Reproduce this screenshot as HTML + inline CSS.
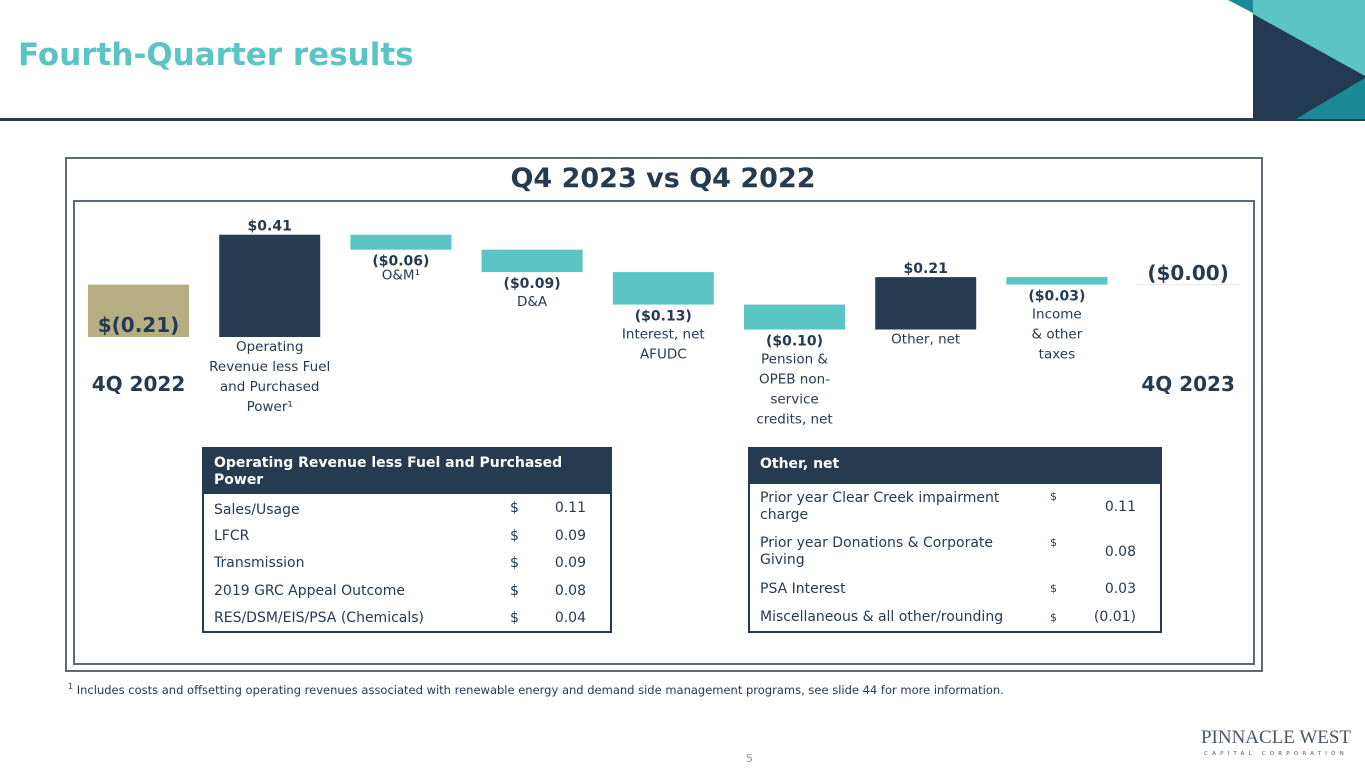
<!DOCTYPE html>
<html><head><meta charset="utf-8"><style>
body{margin:0;width:1365px;height:768px;position:relative;background:#fff;font-family:"DejaVu Sans","Liberation Sans",sans-serif;overflow:hidden;color:#263a50}
.abs{position:absolute}
table{border-collapse:collapse;font-size:14px;color:#263a50;table-layout:fixed}
.tbl{position:absolute;border:2px solid #263a50;background:#fff}
.tbl .hd{background:#263a50;color:#fff;font-weight:bold;padding:6px 10px;font-size:14px;line-height:17px}
.tbl td{padding:0 10px;vertical-align:middle}
</style></head><body>
<div class="abs" style="left:18px;top:37px;font-size:31px;font-weight:bold;color:#5bc4c4">Fourth-Quarter results</div>
<div class="abs" style="left:0;top:118px;width:1365px;height:3px;background:#263a50"></div>
<svg class="abs" style="left:1228px;top:0" width="137" height="119">
<polygon points="0,0 25,0 25,13" fill="#1a8a96"/>
<rect x="25" y="0" width="112" height="119" fill="#233b52"/>
<polygon points="25,0 137,0 137,76 25,14" fill="#5bc4c4"/>
<polygon points="68,119 137,119 137,78" fill="#1a8a96"/>
</svg>
<div class="abs" style="left:65px;top:157px;width:1194px;height:511px;border:2px solid #5d6b77"></div>
<div class="abs" style="left:73px;top:200px;width:1178px;height:461px;border:2px solid #5d6b77"></div>
<div class="abs" style="left:65px;width:1196px;top:163px;text-align:center;font-size:27px;font-weight:bold">Q4 2023 vs Q4 2022</div>
<svg class="abs" id="chart" style="left:0;top:0" width="1365" height="440"></svg>
<script>
const categories=["4Q 2022","Operating Revenue less Fuel and Purchased Power","O&M","D&A","Interest, net AFUDC","Pension & OPEB non-service credits, net","Other, net","Income & other taxes","4Q 2023"];
const deltas=[0.21,0.41,-0.06,-0.09,-0.13,-0.10,0.21,-0.03,0];
const valueLabels=["$(0.21)","$0.41","($0.06)","($0.09)","($0.13)","($0.10)","$0.21","($0.03)","($0.00)"];
const catLines=[[],["Operating","Revenue less Fuel","and Purchased","Power¹"],["O&M¹"],["D&A"],["Interest, net","AFUDC"],["Pension &","OPEB non-","service","credits, net"],["Other, net"],["Income","& other","taxes"],[]];
const svg=document.getElementById('chart');const NS="http://www.w3.org/2000/svg";
const base=337,k=249.5,x0=88,step=131.2,bw=101;
const y=v=>base-v*k;const xs=i=>x0+i*step;
function mk(t,a){const e=document.createElementNS(NS,t);for(const n in a)e.setAttribute(n,a[n]);svg.appendChild(e);return e;}
let cum=0;
deltas.forEach((d,i)=>{
 let top,bot,fill;
 if(i===0){top=y(d);bot=y(0);fill="#b4ae82";}
 else if(i===deltas.length-1){top=y(cum)-0.5;bot=y(cum)+0.5;fill="#e8e8e8";}
 else{const a=cum,b=cum+d;top=y(Math.max(a,b));bot=y(Math.min(a,b));fill=d>0?"#263a50":"#5bc4c4";cum=b;}
 if(i===0)cum=0;
 const r=mk('rect',{x:xs(i),y:top,width:bw,height:Math.max(bot-top,1),fill:fill});
 
 
 const cx=xs(i)+bw/2;
 let ly,fs=14;
 if(i===0){ly=bot-5;fs=20;}
 else if(i===deltas.length-1){ly=top-4;fs=20;}
 else if(d>0){ly=top-4;}
 else{ly=bot+16;}
 const t=mk('text',{x:cx,y:ly,'text-anchor':'middle','font-size':fs,'font-weight':'bold',fill:'#263a50'});
 t.textContent=valueLabels[i];
 
 
 let cy=(d>0&&i>0)?bot+14:ly+(i===2?14:18);
 if(i===1)cy=bot+14;
 catLines[i].forEach((s,j)=>{const c=mk('text',{x:cx,y:cy+j*20,'text-anchor':'middle','font-size':13.5,fill:'#263a50'});c.textContent=s;
  
  });
});
[[0,"4Q 2022"],[8,"4Q 2023"]].forEach(([i,s])=>{const c=mk('text',{x:xs(i)+bw/2,y:391,'text-anchor':'middle','font-size':20,'font-weight':'bold',fill:'#263a50'});c.textContent=s;
 
 });
</script>
<div class="tbl" style="left:202px;top:447px;width:406px">
<div class="hd" style="height:33px">Operating Revenue less Fuel and Purchased Power</div>
<table style="width:406px">
<colgroup><col style="width:296px"><col style="width:44px"><col style="width:66px"></colgroup>
<tr style="height:28px"><td style="padding-top:4px">Sales/Usage</td><td>$</td><td style="text-align:right;padding-right:24px">0.11</td></tr>
<tr style="height:27px"><td>LFCR</td><td>$</td><td style="text-align:right;padding-right:24px">0.09</td></tr>
<tr style="height:28px"><td>Transmission</td><td>$</td><td style="text-align:right;padding-right:24px">0.09</td></tr>
<tr style="height:27px"><td>2019 GRC Appeal Outcome</td><td>$</td><td style="text-align:right;padding-right:24px">0.08</td></tr>
<tr style="height:27px"><td>RES/DSM/EIS/PSA (Chemicals)</td><td>$</td><td style="text-align:right;padding-right:24px">0.04</td></tr>
</table></div>
<div class="tbl" style="left:748px;top:447px;width:410px">
<div class="hd" style="height:22px;padding-top:7px">Other, net</div>
<table style="width:410px">
<colgroup><col style="width:290px"><col style="width:40px"><col style="width:80px"></colgroup>
<tr style="height:46px"><td style="line-height:17px">Prior year Clear Creek impairment<br>charge</td><td style="font-size:11px;vertical-align:top;padding-top:6px">$</td><td style="text-align:right;padding-right:24px">0.11</td></tr>
<tr style="height:44px"><td style="line-height:17px">Prior year Donations &amp; Corporate<br>Giving</td><td style="font-size:11px;vertical-align:top;padding-top:6px">$</td><td style="text-align:right;padding-right:24px">0.08</td></tr>
<tr style="height:29px"><td>PSA Interest</td><td style="font-size:11px">$</td><td style="text-align:right;padding-right:24px">0.03</td></tr>
<tr style="height:28px"><td style="white-space:nowrap">Miscellaneous &amp; all other/rounding</td><td style="font-size:11px">$</td><td style="text-align:right;padding-right:24px">(0.01)</td></tr>
</table></div>
<div class="abs" style="left:68px;top:682px;font-size:11.5px;color:#263a50;white-space:nowrap"><sup style="font-size:8px">1</sup> Includes costs and offsetting operating revenues associated with renewable energy and demand side management programs, see slide 44 for more information.</div>
<div class="abs" style="left:746px;top:752px;font-size:11px;color:#8a96a0">5</div>
<div class="abs" style="left:1196px;top:728px;width:160px;text-align:center;color:#4a5866;white-space:nowrap">
<div style="font-family:'Liberation Serif',serif;font-size:19px;letter-spacing:0px;line-height:20px">PINNACLE WEST</div>
<div style="font-size:5.5px;letter-spacing:4.2px;margin-top:3px">CAPITAL CORPORATION</div></div>
</body></html>
